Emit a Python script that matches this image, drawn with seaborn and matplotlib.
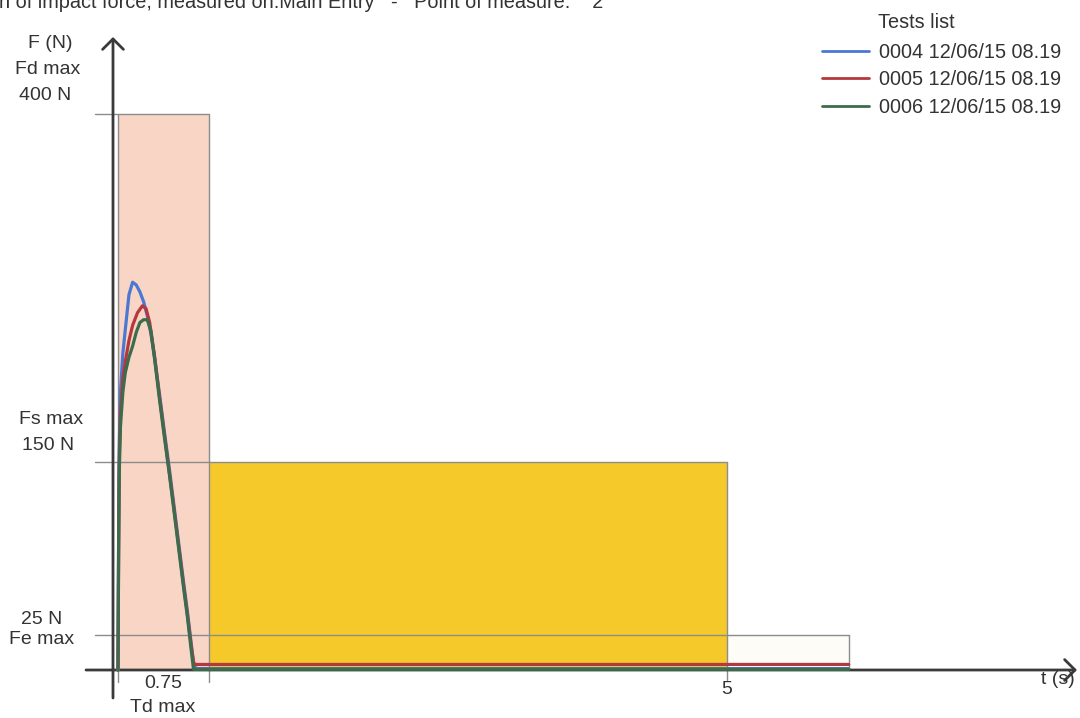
import numpy as np
import pandas as pd
import matplotlib
matplotlib.use("Agg")
import matplotlib.pyplot as plt
import seaborn as sns
from matplotlib.patches import Rectangle
from matplotlib.lines import Line2D

# Impact force recordings (time in s, force in N)
tests = ["0004 12/06/15 08.19", "0005 12/06/15 08.19", "0006 12/06/15 08.19"]

t_0004 = [0.00, 0.005, 0.01, 0.02, 0.04, 0.06, 0.09, 0.12, 0.15, 0.18, 0.21, 0.24,
          0.27, 0.30, 0.34, 0.38, 0.42, 0.46, 0.50, 0.54, 0.57, 0.60, 0.62, 0.64, 6.00]
f_0004 = [0, 100, 160, 200, 228, 245, 270, 279, 277, 272, 265, 255,
          242, 225, 199, 172, 146, 118, 90, 62, 42, 20, 5, 1, 1]

t_0005 = [0.00, 0.005, 0.01, 0.02, 0.04, 0.06, 0.09, 0.12, 0.16, 0.20, 0.23, 0.26,
          0.30, 0.34, 0.38, 0.42, 0.46, 0.50, 0.54, 0.57, 0.60, 0.62, 0.63, 6.00]
f_0005 = [0, 90, 150, 185, 210, 222, 237, 248, 257, 262, 260, 250,
          226, 197, 170, 143, 116, 88, 60, 40, 18, 6, 4, 4]

t_0006 = [0.00, 0.005, 0.01, 0.02, 0.04, 0.06, 0.09, 0.12, 0.15, 0.18, 0.21, 0.24,
          0.27, 0.30, 0.34, 0.38, 0.42, 0.46, 0.50, 0.54, 0.57, 0.60, 0.62, 6.00]
f_0006 = [0, 80, 140, 175, 200, 214, 225, 233, 243, 250, 252, 252,
          244, 224, 195, 168, 142, 114, 86, 58, 38, 15, 0.5, 0.5]

# Acceptance limits
td_max = 0.75   # s, dynamic phase
fd_max = 400    # N
fs_max = 150    # N, static phase
ts_end = 5      # s
fe_max = 25     # N, final phase
te_end = 6      # s

colors = ["#4b78d2", "#b4393d", "#3b6c4c"]
palette = dict(zip(tests, colors))

sns.set_theme(style="white")
plt.rcParams["font.family"] = ["Liberation Sans", "DejaVu Sans"]

W, H = 1080, 718
fig = plt.figure(figsize=(W / 100, H / 100), dpi=100)
ax = fig.add_axes([0, 0, 1, 1])

# scale of the drawing: pixels per second / per newton, origin position
PX_T, PX_F = 121.8, 1.39
X0, Y0 = 118, 670
ax.set_xlim(-X0 / PX_T, (W - X0) / PX_T)
ax.set_ylim(-(H - Y0) / PX_F, Y0 / PX_F)
ax.set_axis_off()


def dt(px):
    return px / PX_T


def dF(px):
    return px / PX_F


def tx(px):
    return (px - X0) / PX_T


def fy(py):
    return (Y0 - py) / PX_F


# limit zones
ax.add_patch(Rectangle((0, 0), td_max, fd_max, fc="#f9d5c6", ec="none", zorder=1))
ax.add_patch(Rectangle((td_max, 0), ts_end - td_max, fs_max, fc="#f6c92a", ec="none", zorder=1))
ax.add_patch(Rectangle((ts_end, 0), te_end - ts_end, fe_max, fc="#fdfcf6", ec="none", zorder=1))

guide = dict(color="#8c8c8c", lw=1.0, zorder=2)
left = -dt(23)
ax.plot([left, td_max], [fd_max, fd_max], **guide)
ax.plot([left, ts_end], [fs_max, fs_max], **guide)
ax.plot([left, te_end], [fe_max, fe_max], **guide)
ax.plot([0, 0], [-dF(12), fd_max], **guide)
ax.plot([td_max, td_max], [-dF(12), fd_max], **guide)
ax.plot([ts_end, ts_end], [-dF(10), fs_max], **guide)
ax.plot([te_end, te_end], [0, fe_max], **guide)

# axes with open arrow heads
arrow = dict(arrowstyle="->,head_length=0.75,head_width=0.75", lw=2, color="#3a3a3a",
             shrinkA=0, shrinkB=0, mutation_scale=10)
ax.annotate("", xy=(-dt(5), fy(37)), xytext=(-dt(5), fy(698)), arrowprops=arrow, zorder=3)
ax.annotate("", xy=(tx(1077), 0), xytext=(tx(86), 0), arrowprops=arrow, zorder=3)

# force curves
frames = [pd.DataFrame({"t": t, "F": f, "test": n})
          for n, t, f in zip(tests, [t_0004, t_0005, t_0006], [f_0004, f_0005, f_0006])]
data = pd.concat(frames, ignore_index=True)
sns.lineplot(data=data, x="t", y="F", hue="test", palette=palette, estimator=None,
             sort=False, lw=2.3, legend=False, ax=ax, zorder=5)

# labels
txt = dict(fontsize=14, color="#333333", ha="center", va="center", zorder=6)
ax.text(tx(50), fy(43), "F (N)", **txt)
ax.text(tx(48), fy(70), "Fd max", **txt)
ax.text(tx(45), fy(96), f"{fd_max} N", **txt)
ax.text(tx(51), fy(420), "Fs max", **txt)
ax.text(tx(48), fy(445), f"{fs_max} N", **txt)
ax.text(tx(42), fy(620), f"{fe_max} N", **txt)
ax.text(tx(42), fy(639), "Fe max", **txt)
ax.text(tx(163), fy(684), f"{td_max}", **txt)
ax.text(tx(163), fy(708), "Td max", **txt)
ax.text(ts_end, fy(690), f"{ts_end}", **txt)
ax.text(tx(1058), fy(680), "t (s)", **txt)

ax.text(tx(-1), fy(8),
        "n of impact force, measured on:Main Entry   -   Point of measure:    2",
        fontsize=14.3, color="#333333", ha="left", va="baseline")

ax.text(tx(878), fy(22), "Tests list", fontsize=14.3, color="#333333", ha="left", va="center")
handles = [Line2D([], [], color=palette[n], lw=2) for n in tests]
ax.legend(handles, tests, loc="upper left", bbox_to_anchor=(822 / W, 1 - 43 / H),
          bbox_transform=fig.transFigure, frameon=False, fontsize=14.3, labelcolor="#333333",
          handlelength=2.35, handletextpad=0.5, labelspacing=0.42, borderpad=0, borderaxespad=0)

fig.savefig("out.png", dpi=100)
